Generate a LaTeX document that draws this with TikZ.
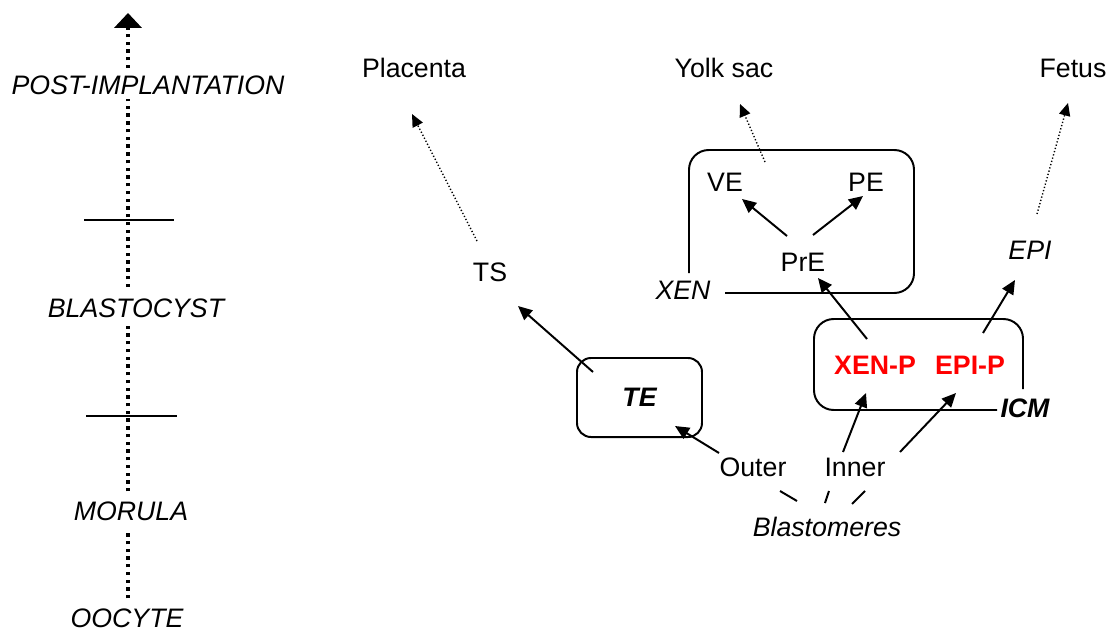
\documentclass[tikz,border=0pt]{standalone}
\usepackage{fontspec}
\setmainfont{Liberation Sans}
\usetikzlibrary{arrows.meta,calc}
\begin{document}
\begin{tikzpicture}[x=0.025cm,y=-0.025cm,
  lbl/.style={inner sep=0pt, font=\fontsize{19}{22}\selectfont},
  stage/.style={inner sep=0pt, font=\fontsize{19}{22}\selectfont\itshape},
  prog/.style={inner sep=0pt, font=\fontsize{19}{22}\selectfont\bfseries, text=red},
  axisline/.style={line width=3pt, dash pattern=on 2.4pt off 3.1pt},
  tickmark/.style={line width=1.4pt},
  lin/.style={line width=1.4pt, -{Triangle[length=10pt,width=9pt]}},
  fate/.style={line width=1pt, dash pattern=on 0.9pt off 1.5pt, -{Triangle[length=9pt,width=8pt]}},
  frame/.style={line width=1.4pt, rounded corners=14pt},
  plain/.style={line width=1.4pt}]
\useasboundingbox (0,0) rectangle (1112,631);

% ---- developmental time axis ----
\coordinate (axis) at (128,0);
\coordinate (axistop) at (128,13);
\node[stage] (post)   at (148,85)  {POST-IMPLANTATION};
\node[stage] (blasto) at (136,308) {BLASTOCYST};
\node[stage] (morula) at (131,511) {MORULA};
\node[stage] (oocyte) at (127,618) {OOCYTE};

\draw[axisline, shorten <=7pt, shorten >=7pt] (oocyte.north -| axis) -- (morula.south -| axis);
\draw[axisline, shorten <=7pt, shorten >=5.5pt] (morula.north -| axis) -- (blasto.south -| axis);
\draw[axisline, shorten <=8pt, shorten >=3pt] (blasto.north -| axis) -- (post.south -| axis);
\draw[axisline, shorten <=5pt, -{Triangle[length=10.5pt,width=19pt]}] (post.north -| axis) -- (axistop);

\coordinate (tickA) at (84,220);
\coordinate (tickB) at (86,416);
\draw[tickmark] (tickA) -- ++(90,0);
\draw[tickmark] (tickB) -- ++(91,0);

% ---- fates ----
\node[lbl] (placenta) at (414,68)  {Placenta};
\node[lbl] (yolk)     at (724,68)  {Yolk sac};
\node[lbl] (fetus)    at (1073,68) {Fetus};

\node[lbl]   (ts)  at (490,272)  {TS};
\node[stage] (epi) at (1030,250) {EPI};

% ---- extra-embryonic endoderm ----
\draw[frame] (689,273) |- (914,150) |- (725,293);
\node[stage] (xen) at (683,290) {XEN};
\coordinate (xentop) at (765,162);
\node[lbl] (ve)  at (725,182) {VE};
\node[lbl] (pe)  at (866,182) {PE};
\node[lbl] (pre) at (803,262) {PrE};

% ---- inner cell mass ----
\draw[frame] (1023,389) |- (814,319) |- (997,410);
\node[stage, font=\fontsize{19}{22}\selectfont\bfseries\itshape] (icm) at (1025,408) {ICM};
\node[prog] (xenp) at (875,365) {XEN-P};
\node[prog] (epip) at (970,365) {EPI-P};

% ---- trophectoderm ----
\node[draw, line width=1.4pt, rounded corners=10pt, minimum width=88.9pt, minimum height=56.2pt,
      font=\fontsize{19}{22}\selectfont\bfseries\itshape] (te) at (639.5,397.5) {TE};

% ---- blastomeres ----
\node[lbl]   (outer) at (753,467) {Outer};
\node[lbl]   (inner) at (855,467) {Inner};
\node[stage] (blast) at (827,527) {Blastomeres};

% ---- lineage arrows ----
\draw[lin] ($(te)+(-46.5,-25.5)$) -- ($(ts)+(28,34)$);
\draw[lin] ($(outer)+(-34,-14)$) -- ($(te)+(35.5,28.5)$);
\draw[lin] ($(inner)+(-12,-15)$) -- ($(xenp)+(-9,28)$);
\draw[lin] ($(inner)+(45,-15)$) -- ($(epip)+(-14,28)$);
\draw[lin] ($(xenp)+(-8,-26)$) -- ($(pre)+(15,16)$);
\draw[lin] ($(epip)+(13,-32)$) -- ($(epi)+(-15,30)$);
\draw[lin] ($(pre)+(-16,-26)$) -- ($(ve)+(17,17)$);
\draw[lin] ($(pre)+(10,-27)$) -- ($(pe)+(-3,14)$);

% ---- fate arrows ----
\draw[fate] ($(ts)+(-13,-31)$) -- ($(placenta)+(-2,46)$);
\draw[fate] (xentop) -- ($(yolk)+(16,36)$);
\draw[fate] ($(epi)+(7,-36)$) -- ($(fetus)+(-5,35)$);

% ---- blastomere splits ----
\draw[plain] ($(outer)+(27,24)$) -- ($(blast)+(-30,-26)$);
\draw[plain] ($(inner)+(-26,24)$) -- ($(blast)+(-2,-24)$);
\draw[plain] ($(inner)+(10,24)$) -- ($(blast)+(25,-23)$);
\end{tikzpicture}
\end{document}
